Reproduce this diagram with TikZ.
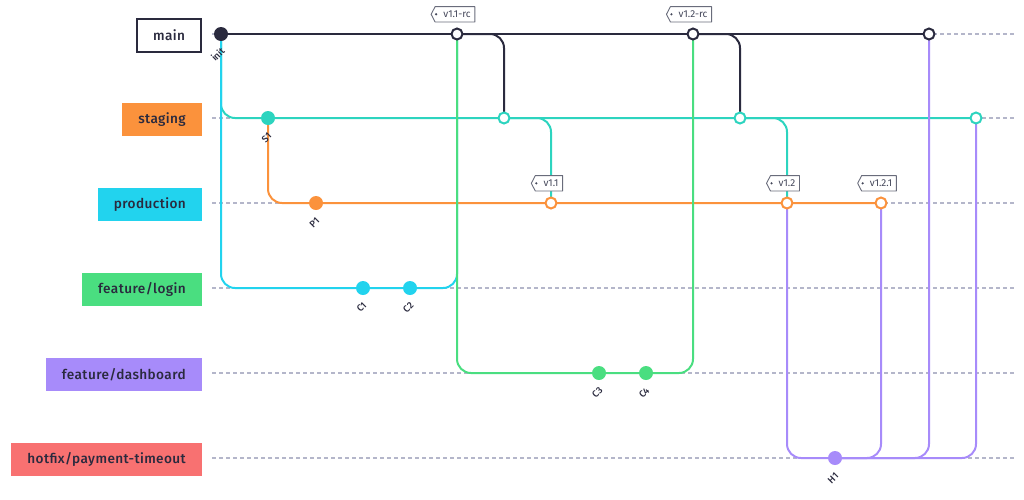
\documentclass[tikz,border=0pt]{standalone}
\usepackage{fontspec}
\setmainfont{Fira Sans}
\newfontfamily\medfont{Fira Sans Medium}[LetterSpace=3]
\newfontfamily\smallfont{Fira Sans Medium}
\usetikzlibrary{calc}
\definecolor{ink}{HTML}{2A2A3E}
\definecolor{ink2}{HTML}{44475A}
\definecolor{guide}{HTML}{B4B6CA}
\definecolor{cteal}{HTML}{2DD4BF}
\definecolor{corange}{HTML}{FB923C}
\definecolor{ccyan}{HTML}{22D3EE}
\definecolor{cgreen}{HTML}{4ADE80}
\definecolor{cpurple}{HTML}{A78BFA}
\definecolor{cred}{HTML}{F87171}
\pgfdeclarelayer{bg}
\pgfdeclarelayer{mid}
\pgfsetlayers{bg,mid,main}
\begin{document}
\begin{tikzpicture}[x=1pt,y=-1pt,
  lane/.style={draw=guide, dash pattern=on 4pt off 3pt, line width=1.2pt},
  br/.style={line width=2pt, rounded corners=14pt},
  fc/.style={circle, minimum size=14pt, inner sep=0pt},
  oc/.style={circle, draw, line width=2pt, fill=white, minimum size=11pt, inner sep=0pt},
  lbl/.style={anchor=east, minimum height=33pt, inner xsep=16pt, inner ysep=0pt, font=\medfont\fontsize{13.6}{15}\selectfont, text=ink},
  clab/.style={rotate=45, anchor=east, inner sep=0pt, font=\smallfont\fontsize{9.5}{10}\selectfont, text=ink},
  tagt/.style={inner sep=0pt, minimum height=15pt, anchor=south, font=\fontsize{10}{11}\selectfont, text=ink2},
  tagline/.style={draw=ink2!80, fill=white, line width=0.9pt, line join=round}]
\useasboundingbox (0,0) rectangle (1024,499);

% branch labels
\node[lbl, draw=ink, line width=2pt, fill=white] (lmain) at (202,35) {main};
\node[lbl, fill=corange] (lstaging) at (202,119.5) {staging};
\node[lbl, fill=ccyan] (lprod) at (202,204.5) {production};
\node[lbl, fill=cgreen] (llogin) at (202,289.5) {feature/login};
\node[lbl, fill=cpurple] (ldash) at (202,374.5) {feature/dashboard};
\node[lbl, fill=cred] (lhot) at (202,459.5) {hotfix/payment-timeout};

% commits
\node[fc, fill=ink] (init) at (221,34) {};
\node[oc, draw=ink] (v11rc) at (457,34) {};
\node[oc, draw=ink] (v12rc) at (693,34) {};
\node[oc, draw=ink] (m3) at (929,34) {};
\node[fc, fill=cteal] (S1) at (268,118) {};
\node[oc, draw=cteal] (s1) at (504,118) {};
\node[oc, draw=cteal] (s2) at (740,118) {};
\node[oc, draw=cteal] (s3) at (976,118) {};
\node[fc, fill=corange] (P1) at (316,203) {};
\node[oc, draw=corange] (v11) at (551,203) {};
\node[oc, draw=corange] (v12) at (787,203) {};
\node[oc, draw=corange] (v121) at (881,203) {};
\node[fc, fill=ccyan] (C1) at (363,288) {};
\node[fc, fill=ccyan] (C2) at (410,288) {};
\node[fc, fill=cgreen] (C3) at (599,373) {};
\node[fc, fill=cgreen] (C4) at (646,373) {};
\node[fc, fill=cpurple] (H1) at (835,458) {};

% commit labels
\node[clab] (linit) at ($(init.center)+(2,15)$) {init};
\node[clab] (lS1) at ($(S1.center)+(2,16)$) {S1};
\node[clab] (lP1) at ($(P1.center)+(2,16)$) {P1};
\node[clab] (lC1) at ($(C1.center)+(2,16)$) {C1};
\node[clab] (lC2) at ($(C2.center)+(2,16)$) {C2};
\node[clab] (lC3) at ($(C3.center)+(2,16)$) {C3};
\node[clab] (lC4) at ($(C4.center)+(2,16)$) {C4};
\node[clab] (lH1) at ($(H1.center)+(2,16)$) {H1};

% tags
\node[tagt] (t1) at ($(v11rc.center)+(0,-12)$) {v1.1-rc};
\node[tagt] (t2) at ($(v12rc.center)+(0,-12)$) {v1.2-rc};
\node[tagt] (t3) at ($(v11.center)+(0,-12)$) {v1.1};
\node[tagt] (t4) at ($(v12.center)+(0,-12)$) {v1.2};
\node[tagt] (t5) at ($(v121.center)+(0,-12)$) {v1.2.1};
\begin{pgfonlayer}{mid}
\foreach \t in {t1,t2,t3,t4,t5}{
  \draw[tagline] ($(\t.north west)+(-8,0)$) -- ($(\t.north east)+(4,0)$) -- ($(\t.south east)+(4,0)$) -- ($(\t.south west)+(-8,0)$) -- ($(\t.west)+(-12,0)$) -- cycle;
  \fill[ink2] ($(\t.west)+(-7,0)$) circle (1.2pt);
}
\end{pgfonlayer}

\begin{pgfonlayer}{bg}
% guide lanes
\coordinate (g0a) at (212,34);   \coordinate (g0b) at (1015,34);
\coordinate (g1a) at (212,118);  \coordinate (g1b) at (1015,118);
\coordinate (g2a) at (212,203);  \coordinate (g2b) at (1015,203);
\coordinate (g3a) at (212,288);  \coordinate (g3b) at (1015,288);
\coordinate (g4a) at (212,373);  \coordinate (g4b) at (1015,373);
\coordinate (g5a) at (212,458);  \coordinate (g5b) at (1015,458);
\foreach \g in {0,...,5}{ \draw[lane] (g\g a) -- (g\g b); }

% staging
\draw[br, cteal] (init.center) |- (S1.center) -- (s3.center);
\draw[br, cteal] (s1.center) -| (v11.center);
\draw[br, cteal] (s2.center) -| (v12.center);
% production
\draw[br, corange] (S1.center) |- (P1.center) -- (v121.center);
% feature/login
\draw[br, ccyan] (init.center) |- (C1.center) -- (C2.center) -| (v11rc.center);
% main
\draw[br, ink] (init.center) -- (m3.center);
\draw[br, ink] (v11rc.center) -| (s1.center);
\draw[br, ink] (v12rc.center) -| (s2.center);
% feature/dashboard
\draw[br, cgreen] (v11rc.center) |- (C3.center) -- (C4.center) -| (v12rc.center);
% hotfix
\draw[br, cpurple] (v12.center) |- (H1.center) -| (v121.center);
\draw[br, cpurple] (H1.center) -| (m3.center);
\draw[br, cpurple] (H1.center) -| (s3.center);
\end{pgfonlayer}
\end{tikzpicture}
\end{document}
